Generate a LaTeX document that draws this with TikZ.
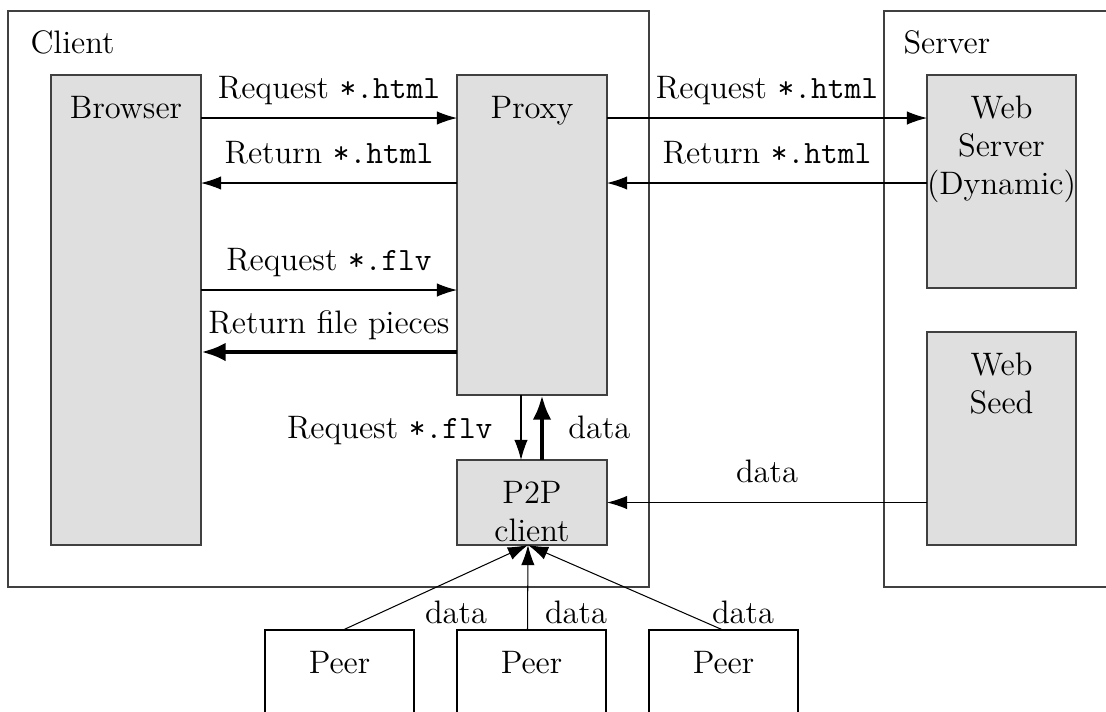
\documentclass[tikz,border=0pt,12pt]{standalone}
\usetikzlibrary{arrows.meta}
\def\pxu{0.3876pt}
\tikzset{
  box/.style={draw=black!75, line width=0.4pt, inner sep=0pt, outer sep=0pt},
  unit/.style={box, fill=gray!25},
  peerbox/.style={draw=black, line width=0.4pt, fill=white, inner sep=0pt, outer sep=0pt},
  title/.style={label={[anchor=north, inner sep=0pt, yshift=-8.1pt, align=center]north:#1}},
  arr/.style={line width=0.4pt, -{Latex[length=7.8pt,width=5.2pt]}},
  bigarr/.style={line width=1.9pt, -{Latex[length=9.5pt,width=7.2pt]}},
  lbl/.style={midway, anchor=base, inner sep=0pt, yshift=20*\pxu},
}
\begin{document}
\begin{tikzpicture}[x=\pxu, y=-\pxu, font=\fontsize{12.6pt}{14.7pt}\selectfont]
\useasboundingbox (0,0) rectangle (1106,711);
\clip (0,0) rectangle (1106,711);

% outer groups
\node[box, minimum width=641*\pxu, minimum height=576*\pxu] (client) at (328.5,299) {};
\node[box, minimum width=246*\pxu, minimum height=576*\pxu] (server) at (1007,299) {};
\node[anchor=base west, inner sep=0pt] (clientlbl) at (30,53) {Client};
\node[anchor=base west, inner sep=0pt] (serverlbl) at (903,53) {Server};

% components
\node[unit, title=Browser, minimum width=150*\pxu, minimum height=470*\pxu] (browser) at (126,310) {};
\node[unit, title=Proxy, minimum width=150*\pxu, minimum height=320*\pxu] (proxy) at (532,235) {};
\node[unit, title={P2P\\client}, minimum width=150*\pxu, minimum height=85*\pxu] (p2p) at (532,502.5) {};
\node[unit, title={Web\\Server\\(Dynamic)}, minimum width=149*\pxu, minimum height=213*\pxu] (websrv) at (1001.5,181.5) {};
\node[unit, title={Web\\Seed}, minimum width=149*\pxu, minimum height=213*\pxu] (webseed) at (1001.5,438.5) {};

% peers
\node[peerbox, title=Peer, minimum width=149*\pxu, minimum height=110*\pxu] (peer1) at (339.5,685) {};
\node[peerbox, title=Peer, minimum width=149*\pxu, minimum height=110*\pxu] (peer2) at (531.5,685) {};
\node[peerbox, title=Peer, minimum width=149*\pxu, minimum height=110*\pxu] (peer3) at (723.5,685) {};

% browser <-> proxy
\draw[arr] (browser.east |- 0,118) -- (proxy.west |- 0,118) node[lbl] {Request \texttt{*.html}};
\draw[arr] (proxy.west |- 0,183) -- (browser.east |- 0,183) node[lbl] {Return \texttt{*.html}};
\draw[arr] (browser.east |- 0,290) -- (proxy.west |- 0,290) node[lbl] {Request \texttt{*.flv}};
\draw[bigarr] (proxy.west |- 0,352) -- (browser.east |- 0,352) node[lbl, yshift=-1*\pxu] {Return file pieces};

% proxy <-> web server
\draw[arr] (proxy.east |- 0,118) -- (websrv.west |- 0,118) node[lbl] {Request \texttt{*.html}};
\draw[arr] (websrv.west |- 0,183) -- (proxy.east |- 0,183) node[lbl] {Return \texttt{*.html}};

% proxy <-> p2p client
\draw[arr] ([xshift=-11*\pxu]proxy.south) -- ([xshift=-11*\pxu]p2p.north)
  node[midway, anchor=base east, inner sep=0pt, xshift=-28*\pxu, yshift=-10.5*\pxu] {Request \texttt{*.flv}};
\draw[bigarr] ([xshift=10*\pxu]p2p.north) -- ([xshift=10*\pxu]proxy.south)
  node[midway, anchor=base west, inner sep=0pt, xshift=24*\pxu, yshift=-10.5*\pxu] {data};

% web seed -> p2p client
\draw[arr] (webseed.west |- p2p.east) -- (p2p.east) node[lbl] {data};

% peers -> p2p client
\draw[arr] ([xshift=3.5*\pxu]peer1.north) -- ([xshift=-4*\pxu]p2p.south);
\draw[arr] ([xshift=-4*\pxu]peer2.north) -- ([xshift=-4*\pxu]p2p.south);
\draw[arr] ([xshift=-0.5*\pxu]peer3.north) -- ([xshift=-4*\pxu]p2p.south);
\node[anchor=base, inner sep=0pt] (data1) at (456,623) {data};
\node[anchor=base, inner sep=0pt] (data2) at (576,623) {data};
\node[anchor=base, inner sep=0pt] (data3) at (743,623) {data};
\end{tikzpicture}
\end{document}
